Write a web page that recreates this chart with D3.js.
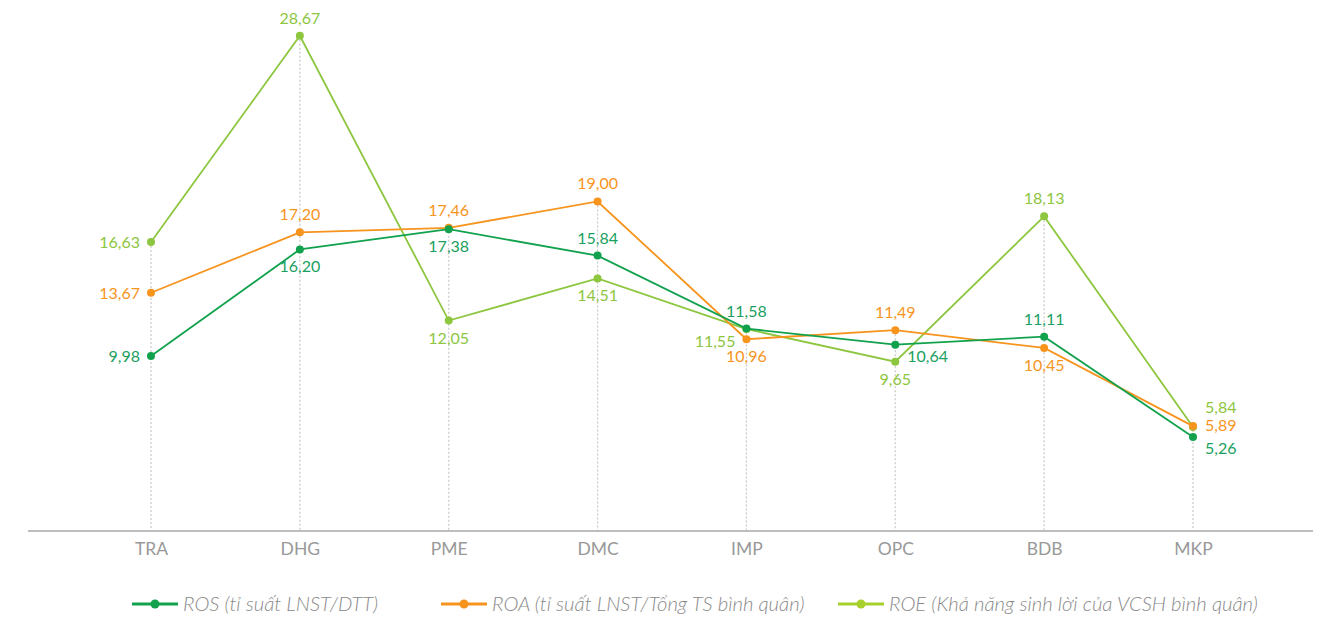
<!DOCTYPE html>
<html><head><meta charset="utf-8">
<script src="https://cdn.jsdelivr.net/npm/d3@7"></script>
<style>
html,body{margin:0;padding:0;background:#fff;}
svg{display:block;font-family:Lato,"Open Sans",sans-serif;}
</style></head>
<body><svg id="c" width="1329" height="617"></svg>
<script>
const categories = ["TRA","DHG","PME","DMC","IMP","OPC","BDB","MKP"];
const seriesNames = ["ROS (tỉ suất LNST/DTT)","ROA (tỉ suất LNST/Tổng TS bình quân)","ROE (Khả năng sinh lời của VCSH bình quân)"];
const rosValues = [9.98,16.20,17.38,15.84,11.58,10.64,11.11,5.26];
const roaValues = [13.67,17.20,17.46,19.00,10.96,11.49,10.45,5.89];
const roeValues = [16.63,28.67,12.05,14.51,11.55,9.65,18.13,5.84];
// label placement codes: L left, A above, B below, R right, BR below-right, AR above-right, BL below-left
const rosPlace = ["L","B","B","A","A","BR","A","BR"];
const roaPlace = ["L","A","A","A","B","A","B","R"];
const roePlace = ["L","A","B","B","BL","B","A","AR"];

const lineColors = ["#12a24e","#f7941d","#8dc63f"];
const labelColors = ["#1aa060","#f7941d","#8dc63f"];
const legendColors = ["#12a24e","#f7941d","#a8d02c"];

const series = [
  {name:seriesNames[0], values:rosValues, place:rosPlace, i:0},
  {name:seriesNames[1], values:roaValues, place:roaPlace, i:1},
  {name:seriesNames[2], values:roeValues, place:roePlace, i:2}
];

const svg = d3.select("#c");
const x = d3.scalePoint().domain(categories).range([151,1193]);
const y = d3.scaleLinear().domain([0,30]).range([527,13]);
const baseY = 531;

// dotted vertical guides
categories.forEach((c,k)=>{
  const mx = d3.max(series, s=>s.values[k]);
  svg.append("line").attr("x1",x(c)).attr("x2",x(c))
    .attr("y1",y(mx)).attr("y2",baseY)
    .attr("stroke","#c8c8c8").attr("stroke-width",1.2).attr("stroke-dasharray","2,2");
});

// axis
const ax = svg.append("g").attr("transform",`translate(0,${baseY})`)
  .call(d3.axisBottom(x).tickSize(0).tickPadding(12));
ax.select(".domain").remove();
svg.append("line").attr("x1",28).attr("x2",1313).attr("y1",baseY).attr("y2",baseY)
  .attr("stroke","#bdbdbd").attr("stroke-width",2);
ax.selectAll("text").attr("fill","#999").attr("font-size",17.5).attr("font-family","Lato,sans-serif");

const line = d3.line().x((d,k)=>x(categories[k])).y(d=>y(d));

[series[2],series[1],series[0]].forEach(s=>{
  svg.append("path").datum(s.values).attr("d",line)
    .attr("fill","none").attr("stroke",lineColors[s.i]).attr("stroke-width",1.8);
  svg.selectAll(null).data(s.values).enter().append("circle")
    .attr("cx",(d,k)=>x(categories[k])).attr("cy",d=>y(d)).attr("r",4)
    .attr("fill",lineColors[s.i]);
});

const fmt = v => v.toFixed(2).replace(".",",");
series.forEach(s=>{
  s.values.forEach((v,k)=>{
    const px = x(categories[k]), py = y(v);
    let dx=0, dy=0, anchor="middle";
    switch(s.place[k]){
      case "L": dx=-11; dy=6; anchor="end"; break;
      case "A": dy=-12; break;
      case "B": dy=23; break;
      case "R": dx=12; dy=5; anchor="start"; break;
      case "BR": dx=12; dy=17; anchor="start"; break;
      case "AR": dx=12; dy=-14; anchor="start"; break;
      case "BL": dx=-11; dy=18; anchor="end"; break;
    }
    svg.append("text").attr("x",px+dx).attr("y",py+dy).attr("text-anchor",anchor)
      .attr("fill",labelColors[s.i]).attr("font-size",16).text(fmt(v));
  });
});

// legend
const legendX = [132,441,838];
series.forEach(s=>{
  const lx = legendX[s.i], ly = 604;
  svg.append("line").attr("x1",lx).attr("x2",lx+46).attr("y1",ly).attr("y2",ly)
    .attr("stroke",legendColors[s.i]).attr("stroke-width",3);
  svg.append("circle").attr("cx",lx+23).attr("cy",ly).attr("r",4.5).attr("fill",legendColors[s.i]);
  svg.append("text").attr("x",lx+51).attr("y",ly+7).attr("fill","#8a8a8a")
    .attr("font-size",20.3).attr("font-style","italic").attr("font-weight",300).text(s.name);
});
</script></body></html>
